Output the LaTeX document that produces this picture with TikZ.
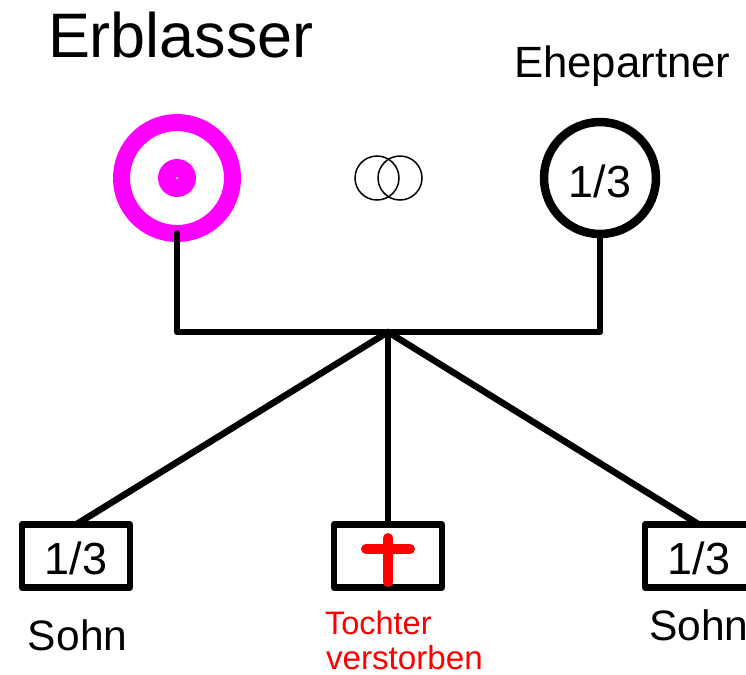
\documentclass[tikz,border=0pt]{standalone}
\usepackage{fontspec}
\setmainfont{Liberation Sans}
\definecolor{fuchsia}{RGB}{255,0,255}
\tikzset{
  ring/.style={circle,draw,outer sep=0pt,inner sep=0pt},
  anteil/.style={font=\fontsize{25.6}{26}\selectfont,text depth=0pt},
  kindbox/.style={rectangle,draw=black,line width=0.13cm,line join=round,minimum width=2.16cm,minimum height=1.26cm,outer sep=0pt,inner sep=0pt,anteil,text height=20.5pt},
  titel/.style={anchor=base west,inner sep=0pt,outer sep=0pt},
  linie/.style={draw=black,line width=0.13cm,line cap=round,line join=round}
}
\begin{document}
\begin{tikzpicture}[x=0.02cm,y=-0.02cm]
\useasboundingbox (0,0) rectangle (746,674);
\node[titel,font=\fontsize{35.8}{36}\selectfont] (erblassername) at (48,57) {Erblasser};
\node[titel,font=\fontsize{24.9}{25}\selectfont] (partnername) at (514,77) {Ehepartner};

\node[ring,draw=fuchsia,line width=0.34cm,minimum size=2.22cm] (erblasser) at (177,178) {};
\node[ring,fill=fuchsia,draw=none,minimum size=0.76cm] (punkt) at (177,178) {};
\node[ring,fill=white,draw=none,minimum size=0.05cm] (mitte) at (177,178) {};
\node[ring,line width=0.17cm,minimum size=2.24cm,anteil,text height=22pt] (partner) at (600,178) {1/3};

\node[ring,line width=0.03cm,minimum size=0.88cm] (ehe1) at (377,178) {};
\node[ring,line width=0.03cm,minimum size=0.88cm] (ehe2) at (400,178) {};

\node[kindbox] (sohn1) at (76,556) {1/3};
\node[kindbox] (tochter) at (388,556) {};
\node[kindbox] (sohn2) at (699,556) {1/3};

\coordinate (knoten) at (388,332);
\draw[linie] (erblasser.south)--(erblasser.south|-knoten)--(partner.south|-knoten)--(partner.south);
\draw[linie] (knoten)--(sohn1.north);
\draw[linie] (knoten)--(tochter.north);
\draw[linie] (knoten)--(sohn2.north);

\coordinate (kreuzoben) at (388,538);
\coordinate (kreuzunten) at (388,582);
\coordinate (kreuzlinks) at (366,549);
\coordinate (kreuzrechts) at (410,549);
\draw[red,line width=0.2cm,line cap=round] (kreuzoben)--(kreuzunten);
\draw[red,line width=0.2cm,line cap=round] (kreuzlinks)--(kreuzrechts);

\node[titel,font=\fontsize{24.2}{24}\selectfont] (sohnname1) at (28,650) {Sohn};
\node[titel,font=\fontsize{24.2}{24}\selectfont] (sohnname2) at (649,640) {Sohn};
\node[titel,red,font=\fontsize{18.5}{18}\selectfont] (tochtername) at (325,634) {Tochter};
\node[titel,red,font=\fontsize{18.9}{19}\selectfont] (verstorben) at (326,669) {verstorben};
\end{tikzpicture}
\end{document}
